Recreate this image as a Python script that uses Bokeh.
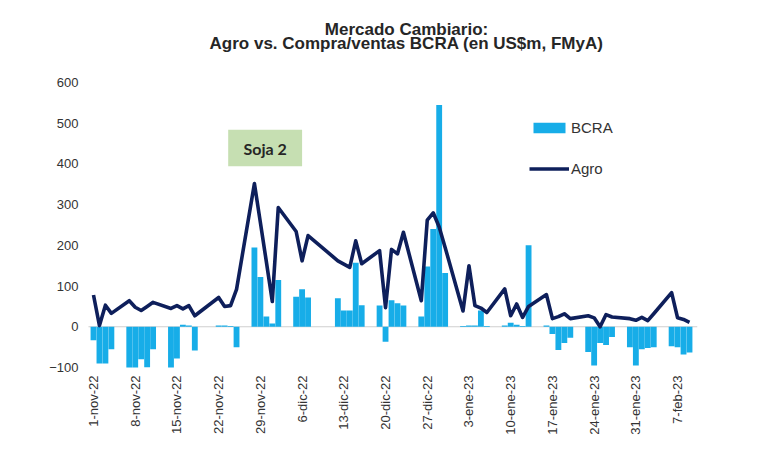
import pandas as pd
from bokeh.plotting import figure
from bokeh.models import (Range1d, FixedTicker, CustomJSTickFormatter, Label, Title,
                          BoxAnnotation, Legend, LegendItem)
from bokeh.embed import file_html
from bokeh.resources import INLINE

# ---------------- data ----------------
dates = [
    "2022-11-01", "2022-11-02", "2022-11-03", "2022-11-04",
    "2022-11-07", "2022-11-08", "2022-11-09", "2022-11-10", "2022-11-11",
    "2022-11-14", "2022-11-15", "2022-11-16", "2022-11-17", "2022-11-18",
    "2022-11-22", "2022-11-23", "2022-11-24", "2022-11-25",
    "2022-11-28", "2022-11-29", "2022-11-30", "2022-12-01", "2022-12-02",
    "2022-12-05", "2022-12-06", "2022-12-07",
    "2022-12-12", "2022-12-13", "2022-12-14", "2022-12-15", "2022-12-16",
    "2022-12-19", "2022-12-20", "2022-12-21", "2022-12-22", "2022-12-23",
    "2022-12-26", "2022-12-27", "2022-12-28", "2022-12-29", "2022-12-30",
    "2023-01-02", "2023-01-03", "2023-01-04", "2023-01-05", "2023-01-06",
    "2023-01-09", "2023-01-10", "2023-01-11", "2023-01-12", "2023-01-13",
    "2023-01-16", "2023-01-17", "2023-01-18", "2023-01-19", "2023-01-20",
    "2023-01-23", "2023-01-24", "2023-01-25", "2023-01-26", "2023-01-27",
    "2023-01-30", "2023-01-31", "2023-02-01", "2023-02-02", "2023-02-03",
    "2023-02-06", "2023-02-07", "2023-02-08", "2023-02-09",
]
agro = [
    78, 3, 53, 33,
    64, 48, 40, 50, 60,
    45, 52, 44, 52, 27,
    72, 50, 52, 92,
    352, 256, 160, 62, 293,
    234, 162, 224,
    162, 154, 146, 211, 155,
    187, 47, 190, 179, 232,
    64, 262, 280, 245, 195,
    39, 150, 52, 46, 35,
    93, 27, 56, 23, 50,
    79, 20, 25, 32, 20,
    27, 22, 0, 30, 24,
    20, 16, 23, 15, 32,
    84, 22, 18, 11,
]
bcra = [
    -33, -90, -90, -55,
    -105, -105, -80, -100, -55,
    -105, -78, 5, 3, -58,
    3, 3, 2, -50,
    195, 122, 25, 8, 115,
    74, 92, 72,
    70, 40, 40, 157, 53,
    52, -37, 65, 58, 52,
    25, 148, 240, 545, 132,
    2, 3, 3, 40, 2,
    3, 10, 5, 2, 200,
    3, -18, -57, -40, -27,
    -62, -95, -40, -45, -25,
    -50, -95, -55, -52, -50,
    -48, -50, -68, -63,
]
tick_dates = ["2022-11-01", "2022-11-08", "2022-11-15", "2022-11-22", "2022-11-29",
              "2022-12-06", "2022-12-13", "2022-12-20", "2022-12-27", "2023-01-03",
              "2023-01-10", "2023-01-17", "2023-01-24", "2023-01-31", "2023-02-07"]
tick_labels = ["1-nov-22", "8-nov-22", "15-nov-22", "22-nov-22", "29-nov-22",
               "6-dic-22", "13-dic-22", "20-dic-22", "27-dic-22", "3-ene-23",
               "10-ene-23", "17-ene-23", "24-ene-23", "31-ene-23", "7-feb-23"]
y_ticks = [-100, 0, 100, 200, 300, 400, 500, 600]
title_lines = ["Mercado Cambiario:", "Agro vs. Compra/ventas BCRA (en US$m, FMyA)"]
series_names = ["BCRA", "Agro"]
note_text = "Soja 2"

# ---------------- helpers ----------------
DAY = 86400000.0
t0 = pd.Timestamp("2022-11-01")
def ms(ts):
    return (pd.Timestamp(ts) - pd.Timestamp("1970-01-01")).total_seconds() * 1000.0

x = pd.to_datetime(dates)
BAR_C = "#17ade8"
LINE_C = "#0e1f5b"
TXT_C = "#333333"
FONT = "Liberation Sans"
X_START = ms(t0) - 1.342 * DAY
X_END = ms(t0) + 106.376 * DAY

p = figure(width=760, height=451, output_backend="svg", toolbar_location=None,
           x_axis_type="datetime",
           x_range=Range1d(X_START, X_END),
           y_range=Range1d(-100, 600),
           min_border_left=85, min_border_right=33, min_border_top=82, min_border_bottom=84)
p.background_fill_color = "white"
p.border_fill_color = "white"
p.outline_line_color = None
p.xgrid.visible = False
p.ygrid.visible = False

# thin zero line (stops at the end of the data area)
zero = BoxAnnotation(left=X_START + 0.5 * DAY, right=ms(t0) + 101.3 * DAY, bottom=-1.2, top=1.2,
                     fill_color="#cfcfcf", fill_alpha=1.0, line_color=None, level="underlay")
p.add_layout(zero)

bars = p.vbar(x=x, top=bcra, bottom=0, width=DAY * 0.98, fill_color=BAR_C, line_color=None)
line = p.line(x=x, y=agro, line_color=LINE_C, line_width=3.6, line_join="round")

# axes
p.yaxis.ticker = FixedTicker(ticks=y_ticks)
p.yaxis.axis_line_color = None
p.yaxis.major_tick_line_color = None
p.yaxis.minor_tick_line_color = None
p.yaxis.major_tick_out = 0
p.yaxis.major_tick_in = 0
p.yaxis.minor_tick_out = 0
p.yaxis.major_label_standoff = 7
p.yaxis.major_label_text_font = FONT
p.yaxis.major_label_text_font_size = "13px"
p.yaxis.major_label_text_color = TXT_C

tick_ms = [ms(d) for d in tick_dates]
p.xaxis.ticker = FixedTicker(ticks=tick_ms)
p.xaxis.formatter = CustomJSTickFormatter(args=dict(tk=tick_ms, lb=tick_labels),
    code="""
    for (let i = 0; i < tk.length; i++) { if (Math.abs(tk[i] - tick) < 1000) return lb[i]; }
    return "";
    """)
p.xaxis.major_label_orientation = 3.14159265 / 2
p.xaxis.axis_line_color = None
p.xaxis.major_tick_line_color = None
p.xaxis.minor_tick_line_color = None
p.xaxis.major_tick_out = 0
p.xaxis.major_tick_in = 0
p.xaxis.minor_tick_out = 0
p.xaxis.major_label_standoff = 8
p.xaxis.major_label_text_font = FONT
p.xaxis.major_label_text_font_size = "13px"
p.xaxis.major_label_text_color = TXT_C

# legend
legend = Legend(items=[LegendItem(label=series_names[0], renderers=[bars]),
                       LegendItem(label=series_names[1], renderers=[line])],
                location=(444, 189))
legend.glyph_width = 40
legend.glyph_height = 13
legend.label_height = 20
legend.spacing = 21
legend.padding = 0
legend.margin = 0
legend.label_standoff = 2
legend.border_line_color = None
legend.background_fill_alpha = 0
legend.label_text_font = FONT
legend.label_text_font_size = "15px"
legend.label_text_color = TXT_C
p.add_layout(legend, "center")

# Soja 2 note
box = BoxAnnotation(left=ms(t0) + 22.6 * DAY, right=ms(t0) + 35.0 * DAY, bottom=394, top=484,
                    fill_color="#c6dfb2", fill_alpha=1.0, line_color=None, level="underlay")
p.add_layout(box)
p.add_layout(Label(x=ms(t0) + 28.8 * DAY, y=439, text=note_text, text_align="center",
                   text_baseline="middle", text_font="Lato", text_font_style="bold",
                   text_font_size="16px", text_color="#262626"))

# titles: invisible spacer next to the plot, then line 2, then line 1 (pulled down)
spacer = Title(text=" ", text_font_size="1px", standoff=27)
t2 = Title(text=title_lines[1], align="center", vertical_align="bottom", standoff=0,
           text_font=FONT, text_font_style="bold", text_font_size="17px", text_color="#262626")
t1 = Title(text=title_lines[0], align="center", vertical_align="bottom", standoff=0,
           text_font=FONT, text_font_style="bold", text_font_size="17px", text_color="#262626")
try:
    t1.standoff = -14
except Exception:
    t1.standoff = 0
p.add_layout(spacer, "above")
p.add_layout(t2, "above")
p.add_layout(t1, "above")

open("out.html", "w").write(file_html(p, INLINE))
